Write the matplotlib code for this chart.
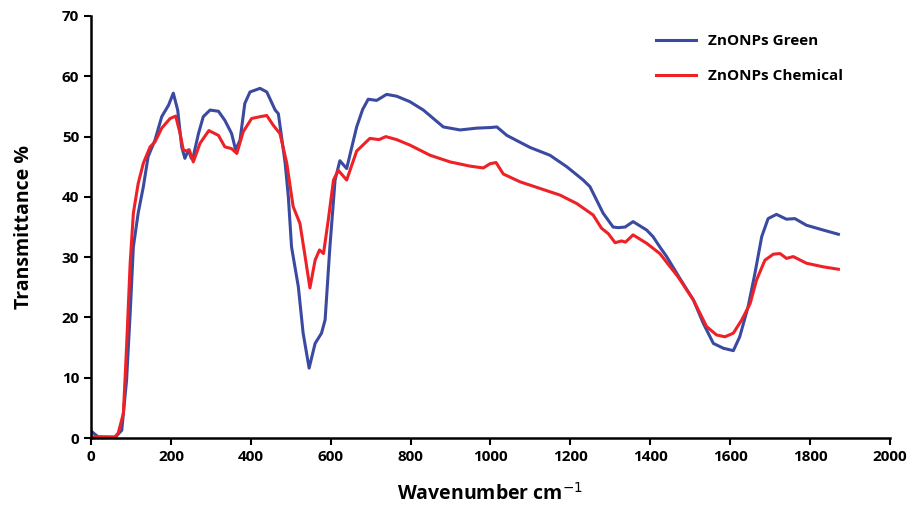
import matplotlib.pyplot as plt

# Wavenumber / transmittance
green_x = [0, 2, 18, 60, 77, 89, 98, 106, 118, 131, 143, 160, 177, 194, 206, 217, 227,
           235, 244, 251, 256, 269, 281, 298, 319, 335, 352, 362, 373, 385, 398, 423, 440,
           461, 469, 486, 494, 502, 519, 531, 546, 561, 577, 586, 598, 611, 623, 640, 657,
           665, 680, 694, 715, 740, 765, 798, 832, 882, 924, 965, 999, 1016, 1041, 1099,
           1149, 1191, 1232, 1249, 1282, 1307, 1320, 1337, 1357, 1391, 1407, 1424, 1441,
           1474, 1508, 1533, 1558, 1583, 1608, 1624, 1645, 1662, 1679, 1695, 1716, 1741,
           1762, 1791, 1833, 1871]
green_y = [1.2, 1.05, 0.2, 0.1, 1.3, 9.6, 20.7, 31.7, 37.3, 41.7, 46.7, 49.4, 53.3, 55.2,
           57.2, 54.4, 48.3, 46.4, 47.8, 46.4, 46.7, 50.5, 53.3, 54.4, 54.2, 52.7, 50.5,
           47.8, 49.4, 55.5, 57.4, 58.0, 57.4, 54.4, 53.8, 45.6, 40.0, 31.7, 25.1, 17.4,
           11.6, 15.7, 17.4, 19.6, 31.7, 42.8, 46.0, 44.7, 49.4, 51.6, 54.5, 56.2, 56.0,
           57.0, 56.7, 55.8, 54.4, 51.6, 51.1, 51.4, 51.5, 51.6, 50.2, 48.2, 46.9, 45.0,
           42.8, 41.7, 37.3, 35.0, 34.9, 35.0, 35.9, 34.5, 33.4, 31.7, 30.1, 26.5, 22.9,
           19.0, 15.7, 14.9, 14.5, 16.8, 21.8, 27.3, 33.4, 36.4, 37.1, 36.3, 36.4, 35.3,
           34.5, 33.8]

chem_x = [0, 2, 60, 68, 81, 89, 98, 106, 118, 131, 148, 160, 177, 198, 212, 223, 231,
          240, 246, 256, 273, 295, 319, 335, 352, 365, 381, 402, 423, 440, 456, 473, 490,
          506, 523, 536, 548, 561, 572, 582, 594, 607, 619, 640, 665, 698, 721, 738, 765,
          798, 849, 899, 949, 982, 999, 1014, 1032, 1074, 1124, 1174, 1216, 1257, 1278,
          1295, 1312, 1328, 1338, 1357, 1391, 1424, 1470, 1508, 1541, 1566, 1587, 1608,
          1629, 1650, 1666, 1687, 1708, 1725, 1741, 1758, 1791, 1833, 1871]
chem_y = [0.3, 0.2, 0.2, 0.8, 4.1, 15.1, 29.0, 37.3, 42.2, 45.6, 48.3, 49.1, 51.4, 53.0,
          53.4, 50.5, 47.8, 47.6, 47.8, 45.8, 48.9, 51.0, 50.2, 48.3, 48.0, 47.2, 50.8,
          53.0, 53.3, 53.5, 51.9, 50.5, 45.6, 38.4, 35.6, 30.1, 24.9, 29.5, 31.2, 30.6,
          36.2, 42.8, 44.4, 42.8, 47.6, 49.7, 49.5, 50.0, 49.5, 48.6, 46.9, 45.8, 45.1,
          44.8, 45.5, 45.7, 43.8, 42.5, 41.4, 40.3, 38.9, 37.0, 34.8, 33.9, 32.4, 32.7,
          32.5, 33.7, 32.3, 30.6, 26.7, 22.9, 18.5, 17.1, 16.8, 17.4, 19.6, 22.3, 26.2,
          29.5, 30.5, 30.6, 29.8, 30.1, 29.0, 28.4, 28.0]

plt.rcParams['font.family'] = ['Open Sans', 'DejaVu Sans']

fig = plt.figure(figsize=(9.12, 5.16), dpi=100)
ax = fig.add_axes([0.0998, 0.151, 0.876, 0.818])

ax.plot(green_x, green_y, color='#3a4aa0', lw=2.2, label='ZnONPs Green',
        solid_joinstyle='round')
ax.plot(chem_x, chem_y, color='#ee2127', lw=2.2, label='ZnONPs Chemical',
        solid_joinstyle='round')

ax.set_xlim(0, 2000)
ax.set_ylim(0, 70)
ax.set_xticks(range(0, 2001, 200))
ax.set_yticks(range(0, 71, 10))

for s in ['top', 'right']:
    ax.spines[s].set_visible(False)
for s in ['left', 'bottom']:
    ax.spines[s].set_linewidth(1.8)
ax.tick_params(direction='out', length=5, width=1.5, labelsize=11)
for lab in ax.get_xticklabels() + ax.get_yticklabels():
    lab.set_fontweight('bold')

ax.set_xlabel('Wavenumber cm$^{-1}$', fontsize=14, fontweight='bold', labelpad=14)
ax.set_ylabel('Transmittance %', fontsize=14, fontweight='bold', labelpad=20)

ax.legend(loc='upper left', bbox_to_anchor=(0.69, 0.99), frameon=False,
          labelspacing=1.4, handlelength=2.6, prop={'weight': 'bold', 'size': 11})

fig.savefig('out.png', dpi=100)
